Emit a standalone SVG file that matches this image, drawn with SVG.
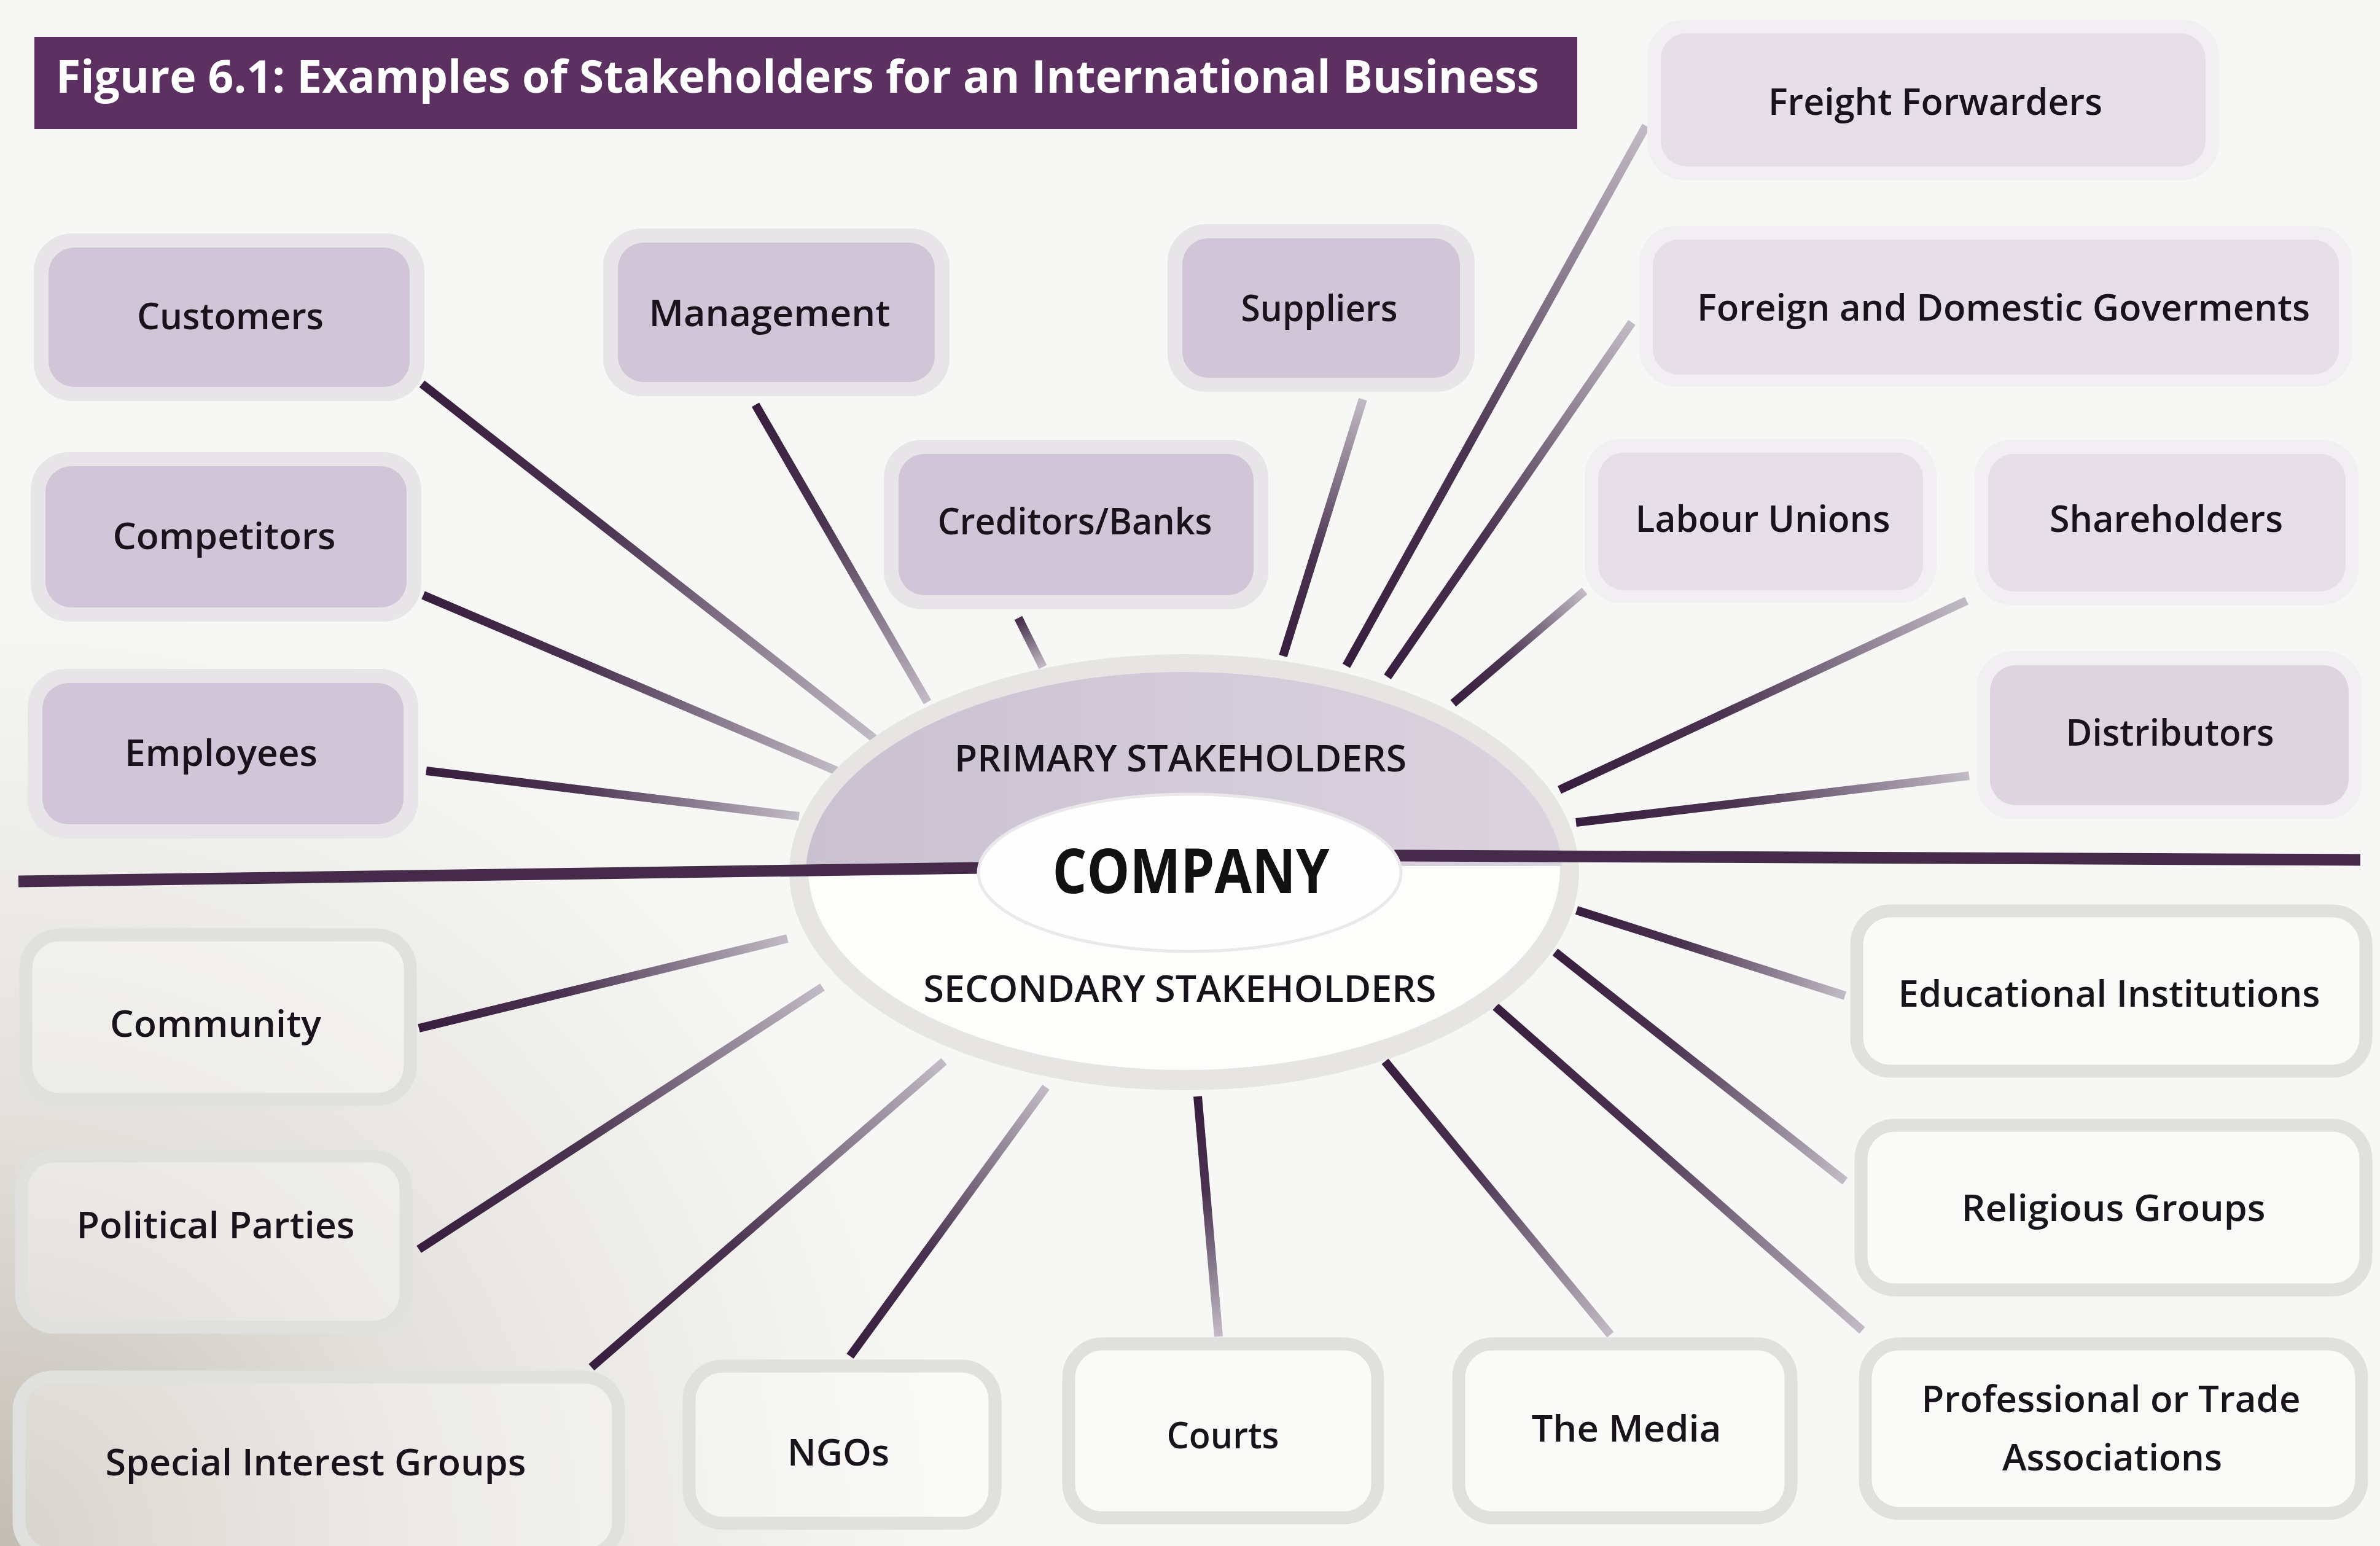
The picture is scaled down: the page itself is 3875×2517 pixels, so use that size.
<svg xmlns="http://www.w3.org/2000/svg" width="3875" height="2517" viewBox="0 0 3875 2517">
  <style>
    .lbl { font-family: "Open Sans", "Noto Sans", "Liberation Sans", sans-serif; font-size: 60px; font-weight: 600; fill: #19131b; text-anchor: middle; }
    .halo { fill: #e8e5e8; }
    .halo-lt { fill: #f1eff1; }
    .box-dk { fill: #d0c6d8; }
    .box-lt { fill: #e6dfe8; }
    .box-sec { fill: #ffffff; fill-opacity: 0.35; stroke: #e0e0de; stroke-width: 21; }
    .conn line { stroke-width: 14; stroke-linecap: butt; }
  </style>
  <defs>
    <linearGradient id="fade">
      <stop offset="0" stop-color="#381e3e"/>
      <stop offset="0.4" stop-color="#4a3350"/>
      <stop offset="1" stop-color="#c2bbc5"/>
    </linearGradient>
    <!-- one gradient per connector, running from its dark end to its light end -->
    <linearGradient id="g1" href="#fade" gradientUnits="userSpaceOnUse" x1="687" y1="625" x2="1423" y2="1202"/>
    <linearGradient id="g2" href="#fade" gradientUnits="userSpaceOnUse" x1="1230" y1="659" x2="1510" y2="1143"/>
    <linearGradient id="g3" href="#fade" gradientUnits="userSpaceOnUse" x1="689" y1="969" x2="1362" y2="1255"/>
    <linearGradient id="g4" href="#fade" gradientUnits="userSpaceOnUse" x1="694" y1="1255" x2="1301" y2="1329"/>
    <linearGradient id="g5" href="#fade" gradientUnits="userSpaceOnUse" x1="1640" y1="960" x2="1698" y2="1086"/>
    <linearGradient id="g6" href="#fade" gradientUnits="userSpaceOnUse" x1="2089" y1="1068" x2="2219" y2="650"/>
    <linearGradient id="g7" href="#fade" gradientUnits="userSpaceOnUse" x1="2192" y1="1084" x2="2680" y2="205"/>
    <linearGradient id="g8" href="#fade" gradientUnits="userSpaceOnUse" x1="2259" y1="1102" x2="2657" y2="525"/>
    <linearGradient id="g9" href="#fade" gradientUnits="userSpaceOnUse" x1="2366" y1="1145" x2="2580" y2="962"/>
    <linearGradient id="g10" href="#fade" gradientUnits="userSpaceOnUse" x1="2539" y1="1286" x2="3202" y2="978"/>
    <linearGradient id="g11" href="#fade" gradientUnits="userSpaceOnUse" x1="2566" y1="1339" x2="3206" y2="1263"/>
    <linearGradient id="g12" href="#fade" gradientUnits="userSpaceOnUse" x1="682" y1="1674" x2="1282" y2="1528"/>
    <linearGradient id="g13" href="#fade" gradientUnits="userSpaceOnUse" x1="682" y1="2034" x2="1339" y2="1607"/>
    <linearGradient id="g14" href="#fade" gradientUnits="userSpaceOnUse" x1="963" y1="2226" x2="1537" y2="1728"/>
    <linearGradient id="g15" href="#fade" gradientUnits="userSpaceOnUse" x1="1384" y1="2208" x2="1703" y2="1770"/>
    <linearGradient id="g16" href="#fade" gradientUnits="userSpaceOnUse" x1="1950" y1="1785" x2="1984" y2="2176"/>
    <linearGradient id="g17" href="#fade" gradientUnits="userSpaceOnUse" x1="2255" y1="1728" x2="2622" y2="2173"/>
    <linearGradient id="g18" href="#fade" gradientUnits="userSpaceOnUse" x1="2435" y1="1639" x2="3032" y2="2166"/>
    <linearGradient id="g19" href="#fade" gradientUnits="userSpaceOnUse" x1="2532" y1="1550" x2="3004" y2="1923"/>
    <linearGradient id="g20" href="#fade" gradientUnits="userSpaceOnUse" x1="2567" y1="1482" x2="3004" y2="1621"/>
    <linearGradient id="primaryFill" x1="0" y1="0" x2="1" y2="0">
      <stop offset="0" stop-color="#cac1d1"/>
      <stop offset="1" stop-color="#dbd4df"/>
    </linearGradient>
    <radialGradient id="shade" gradientUnits="userSpaceOnUse" cx="0" cy="2517" r="1550">
      <stop offset="0" stop-color="#978c7b" stop-opacity="0.55"/>
      <stop offset="0.45" stop-color="#a59d8f" stop-opacity="0.25"/>
      <stop offset="1" stop-color="#b0a99e" stop-opacity="0"/>
    </radialGradient>
    <clipPath id="upperHalf"><rect x="0" y="0" width="3875" height="1410"/></clipPath>
    <clipPath id="lowerHalf"><rect x="0" y="1410" width="3875" height="1107"/></clipPath>
  </defs>

  <!-- page, with a soft shadow toward the lower-left corner -->
  <rect x="0" y="0" width="3875" height="2517" fill="#f7f7f5"/>
  <rect x="0" y="0" width="3875" height="2517" fill="url(#shade)"/>

  <!-- heading bar -->
  <g id="title">
    <rect x="56" y="60" width="2512" height="150" fill="#5c3161"/>
    <text x="91" y="151" font-family="'Open Sans', 'Noto Sans', 'Liberation Sans', sans-serif" font-size="74" font-weight="700" fill="#ffffff" textLength="2415" lengthAdjust="spacingAndGlyphs">Figure 6.1: Examples of Stakeholders for an International Business</text>
  </g>

  <!-- spokes from the company hub to each stakeholder -->
  <g id="connectors" class="conn">
    <line x1="687" y1="625" x2="1423" y2="1202" stroke="url(#g1)"/>
    <line x1="1230" y1="659" x2="1510" y2="1143" stroke="url(#g2)"/>
    <line x1="689" y1="969" x2="1362" y2="1255" stroke="url(#g3)"/>
    <line x1="694" y1="1255" x2="1301" y2="1329" stroke="url(#g4)"/>
    <line x1="1658" y1="1006" x2="1698" y2="1086" stroke="url(#g5)"/>
    <line x1="2219" y1="650" x2="2089" y2="1068" stroke="url(#g6)"/>
    <line x1="2680" y1="205" x2="2192" y2="1084" stroke="url(#g7)"/>
    <line x1="2657" y1="525" x2="2259" y2="1102" stroke="url(#g8)"/>
    <line x1="2580" y1="962" x2="2366" y2="1145" stroke="url(#g9)"/>
    <line x1="3202" y1="978" x2="2539" y2="1286" stroke="url(#g10)"/>
    <line x1="3206" y1="1263" x2="2566" y2="1339" stroke="url(#g11)"/>
    <line x1="682" y1="1674" x2="1282" y2="1528" stroke="url(#g12)"/>
    <line x1="682" y1="2034" x2="1339" y2="1607" stroke="url(#g13)"/>
    <line x1="963" y1="2226" x2="1537" y2="1728" stroke="url(#g14)"/>
    <line x1="1384" y1="2208" x2="1703" y2="1770" stroke="url(#g15)"/>
    <line x1="1950" y1="1785" x2="1984" y2="2176" stroke="url(#g16)"/>
    <line x1="2255" y1="1728" x2="2622" y2="2173" stroke="url(#g17)"/>
    <line x1="2435" y1="1639" x2="3032" y2="2166" stroke="url(#g18)"/>
    <line x1="2532" y1="1550" x2="3004" y2="1923" stroke="url(#g19)"/>
    <line x1="2567" y1="1482" x2="3004" y2="1621" stroke="url(#g20)"/>
  </g>

  <!-- primary stakeholders -->
  <g id="customers">
    <rect class="halo" x="55" y="380" width="636" height="273" rx="62"/>
    <rect class="box-dk" x="79" y="403" width="588" height="227" rx="42"/>
    <text class="lbl" x="375" y="536" textLength="304" lengthAdjust="spacingAndGlyphs">Customers</text>
  </g>
  <g id="management">
    <rect class="halo" x="982" y="372" width="564" height="273" rx="62"/>
    <rect class="box-dk" x="1006" y="395" width="516" height="227" rx="42"/>
    <text class="lbl" x="1253" y="531" textLength="393" lengthAdjust="spacingAndGlyphs">Management</text>
  </g>
  <g id="suppliers">
    <rect class="halo" x="1901" y="365" width="500" height="273" rx="62"/>
    <rect class="box-dk" x="1925" y="388" width="452" height="227" rx="42"/>
    <text class="lbl" x="2148" y="523" textLength="255" lengthAdjust="spacingAndGlyphs">Suppliers</text>
  </g>
  <g id="creditors-banks">
    <rect class="halo" x="1439" y="716" width="626" height="276" rx="62"/>
    <rect class="box-dk" x="1463" y="739" width="578" height="230" rx="42"/>
    <text class="lbl" x="1750" y="870" textLength="447" lengthAdjust="spacingAndGlyphs">Creditors/Banks</text>
  </g>
  <g id="competitors">
    <rect class="halo" x="50" y="736" width="636" height="276" rx="62"/>
    <rect class="box-dk" x="74" y="759" width="588" height="230" rx="42"/>
    <text class="lbl" x="365" y="894" textLength="363" lengthAdjust="spacingAndGlyphs">Competitors</text>
  </g>
  <g id="employees">
    <rect class="halo" x="45" y="1089" width="636" height="276" rx="62"/>
    <rect class="box-dk" x="69" y="1112" width="588" height="230" rx="42"/>
    <text class="lbl" x="360" y="1247" textLength="314" lengthAdjust="spacingAndGlyphs">Employees</text>
  </g>
  <g id="freight-forwarders">
    <rect class="halo-lt" x="2682" y="32" width="931" height="261" rx="60"/>
    <rect class="box-lt" x="2704" y="54" width="887" height="217" rx="42"/>
    <text class="lbl" x="3151" y="187" textLength="544" lengthAdjust="spacingAndGlyphs">Freight Forwarders</text>
  </g>
  <g id="governments">
    <rect class="halo-lt" x="2669" y="368" width="1161" height="261" rx="60"/>
    <rect class="box-lt" x="2691" y="390" width="1117" height="220" rx="42"/>
    <text class="lbl" x="3262" y="522" textLength="998" lengthAdjust="spacingAndGlyphs">Foreign and Domestic Goverments</text>
  </g>
  <g id="labour-unions">
    <rect class="halo-lt" x="2580" y="714" width="573" height="268" rx="60"/>
    <rect class="box-lt" x="2602" y="737" width="529" height="224" rx="42"/>
    <text class="lbl" x="2870" y="866" textLength="415" lengthAdjust="spacingAndGlyphs">Labour Unions</text>
  </g>
  <g id="shareholders">
    <rect class="halo-lt" x="3215" y="716" width="625" height="269" rx="60"/>
    <rect class="box-lt" x="3237" y="739" width="582" height="224" rx="42"/>
    <text class="lbl" x="3527" y="866" textLength="380" lengthAdjust="spacingAndGlyphs">Shareholders</text>
  </g>
  <g id="distributors">
    <rect class="halo-lt" x="3218" y="1060" width="628" height="274" rx="60"/>
    <rect x="3240" y="1083" width="584" height="228" rx="42" fill="#ddd4e0"/>
    <text class="lbl" x="3533" y="1214" textLength="339" lengthAdjust="spacingAndGlyphs">Distributors</text>
  </g>

  <!-- secondary stakeholders -->
  <g id="community">
    <rect class="box-sec" x="42" y="1522" width="626" height="268" rx="55"/>
    <text class="lbl" x="351" y="1688" textLength="344" lengthAdjust="spacingAndGlyphs">Community</text>
  </g>
  <g id="political-parties">
    <rect class="box-sec" x="35" y="1882" width="626" height="279" rx="55"/>
    <text class="lbl" x="351" y="2016" textLength="453" lengthAdjust="spacingAndGlyphs">Political Parties</text>
  </g>
  <g id="special-interest-groups">
    <rect class="box-sec" x="31" y="2242" width="976" height="290" rx="55"/>
    <text class="lbl" x="514" y="2402" textLength="685" lengthAdjust="spacingAndGlyphs">Special Interest Groups</text>
  </g>
  <g id="ngos">
    <rect class="box-sec" x="1122" y="2224" width="498" height="256" rx="55"/>
    <text class="lbl" x="1365" y="2386" textLength="166" lengthAdjust="spacingAndGlyphs">NGOs</text>
  </g>
  <g id="courts">
    <rect class="box-sec" x="1740" y="2188" width="503" height="283" rx="55"/>
    <text class="lbl" x="1991" y="2358" textLength="183" lengthAdjust="spacingAndGlyphs">Courts</text>
  </g>
  <g id="the-media">
    <rect class="box-sec" x="2375" y="2188" width="541" height="283" rx="55"/>
    <text class="lbl" x="2648" y="2347" textLength="309" lengthAdjust="spacingAndGlyphs">The Media</text>
  </g>
  <g id="professional-trade-associations">
    <rect class="box-sec" x="3037" y="2188" width="808" height="276" rx="55"/>
    <text class="lbl" x="3437" y="2299" textLength="617" lengthAdjust="spacingAndGlyphs">Professional or Trade</text>
    <text class="lbl" x="3439" y="2394" textLength="358" lengthAdjust="spacingAndGlyphs">Associations</text>
  </g>
  <g id="educational-institutions">
    <rect class="box-sec" x="3023" y="1483" width="829" height="261" rx="55"/>
    <text class="lbl" x="3434" y="1639" textLength="687" lengthAdjust="spacingAndGlyphs">Educational Institutions</text>
  </g>
  <g id="religious-groups">
    <rect class="box-sec" x="3030" y="1832" width="822" height="268" rx="55"/>
    <text class="lbl" x="3441" y="1988" textLength="495" lengthAdjust="spacingAndGlyphs">Religious Groups</text>
  </g>

  <!-- central hub: primary half, secondary half, company core -->
  <g id="company">
    <ellipse cx="1928" cy="1420" rx="643" ry="355" fill="#e6e5e3"/>
    <ellipse cx="1928" cy="1422" rx="616" ry="328" fill="url(#primaryFill)" clip-path="url(#upperHalf)"/>
    <ellipse cx="1928" cy="1416" rx="612" ry="326" fill="#fdfdfc" clip-path="url(#lowerHalf)"/>
    <line x1="30" y1="1435" x2="1600" y2="1413" stroke="#452a4a" stroke-width="19"/>
    <line x1="2270" y1="1393" x2="3843" y2="1400" stroke="#452a4a" stroke-width="19"/>
    <ellipse cx="1937" cy="1421" rx="344" ry="128" fill="#fefefe" stroke="#ebe8eb" stroke-width="5"/>
    <text x="1939" y="1454" font-family="'Open Sans', 'Noto Sans', 'Liberation Sans', sans-serif" font-size="100" font-weight="700" fill="#111" text-anchor="middle" textLength="451" lengthAdjust="spacingAndGlyphs">COMPANY</text>
    <text class="lbl" x="1922" y="1256" textLength="736" lengthAdjust="spacingAndGlyphs">PRIMARY STAKEHOLDERS</text>
    <text class="lbl" x="1921" y="1631" textLength="835" lengthAdjust="spacingAndGlyphs">SECONDARY STAKEHOLDERS</text>
  </g>
</svg>
